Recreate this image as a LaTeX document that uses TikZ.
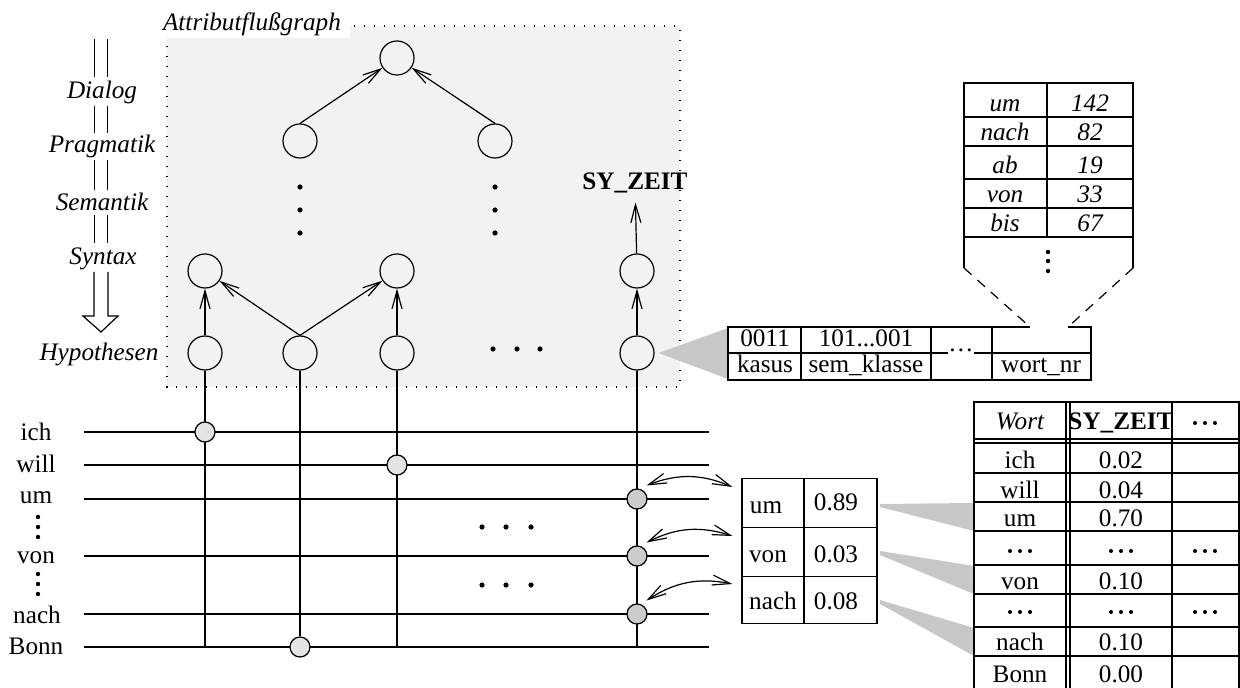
\documentclass[tikz,border=0pt]{standalone}
\usepackage{fontspec}
\setmainfont{Liberation Serif}
\usetikzlibrary{arrows.meta}

\tikzset{
  knoten/.style={circle, draw, minimum size=17pt, inner sep=0pt},
  treffer/.style={circle, draw, minimum size=10pt, inner sep=0pt},
  pfeil/.style={-{Straight Barb[length=9pt,width=5pt]}},
  doppelpfeil/.style={{Straight Barb[length=9pt,width=5pt]}-{Straight Barb[length=9pt,width=5pt]}},
  ebene/.style={font=\itshape, anchor=base},
  eintrag/.style={anchor=base, inner sep=0pt},
  keil/.style={fill=black!22},
  stufe/.style={double, double distance=6.2pt},
}

\begin{document}
\fontsize{12.6}{15}\selectfont
\begin{tikzpicture}[x=0.5pt, y=-0.5pt, line width=0.6pt]
            \useasboundingbox (0,0) rectangle (1240,688);

            % Graph area
            \fill[black!5] (167,26) rectangle (680,387);
            \draw[dash pattern=on 0.7pt off 4.3pt] (167,26) rectangle (680,387);
            \fill[white] (160,0) rectangle (350,38);
            \node[ebene] (titel) at (252,31) {Attributflußgraph};

            % Levels
            \coordinate (stufe-oben) at (101,39);
            \node[ebene] (dialog) at (102,99) {Dialog};
            \node[ebene] (pragmatik) at (102,153) {Pragmatik};
            \node[ebene] (semantik) at (102,211) {Semantik};
            \node[ebene] (syntax) at (103,265) {Syntax};
            \node[ebene] (hypothesen) at (99,361) {Hypothesen};
            \draw[stufe] (stufe-oben) -- (101,77);
            \draw[stufe] (101,106) -- (101,133);
            \draw[stufe] (101,160) -- (101,190);
            \draw[stufe] (101,215) -- (101,243);
            \draw (94,272) -- (94,316) -- (83,316) -- (101,332) -- (118,316) -- (108,316) -- (108,272);

            % Nodes
            \node[knoten] (g0) at (397,58) {};
            \node[knoten] (g1) at (300,141) {};
            \node[knoten] (g2) at (495,141) {};
            \node[knoten] (s1) at (205,271) {};
            \node[knoten] (s2) at (397,271) {};
            \node[knoten] (s3) at (637,271) {};
            \node[knoten] (h1) at (205,353) {};
            \node[knoten] (h2) at (300,353) {};
            \node[knoten] (h3) at (397,353) {};
            \node[knoten] (h4) at (637,353) {};
            \node[anchor=base] (zeit) at (635,190) {\textbf{SY\_ZEIT}};

            % Dots
            \fill (300,187) circle (2.6) (300,210) circle (2.6) (300,233) circle (2.6);
            \fill (495,187) circle (2.6) (495,210) circle (2.6) (495,233) circle (2.6);
            \fill (493,349) circle (2.6) (517,349) circle (2.6) (540,349) circle (2.6);

            % Edges
            \draw[pfeil] (g1.north) -- (g0);
            \draw[pfeil] (g2.north) -- (g0);
            \draw[pfeil] (s3) -- (zeit);
            \draw[pfeil] (h4) -- (s3);
            \draw[pfeil] (h1) -- (s1);
            \draw[pfeil] (h2.north) -- (s1);
            \draw[pfeil] (h2.north) -- (s2);
            \draw[pfeil] (h3) -- (s2);

            % Words
            \node[anchor=base] (w-ich) at (36,441) {ich};
            \node[anchor=base] (w-will) at (36,473) {will};
            \node[anchor=base] (w-um) at (36,503) {um};
            \node[anchor=base] (w-von) at (36,563) {von};
            \node[anchor=base] (w-nach) at (37,623) {nach};
            \node[anchor=base] (w-bonn) at (36,654) {Bonn};
            \fill (38,517) circle (2.2) (38,527) circle (2.2) (38,537) circle (2.2);
            \fill (38,574) circle (2.2) (38,584) circle (2.2) (38,594) circle (2.2);
            \draw (84,432) -- (709,432);
            \draw (84,465) -- (709,465);
            \draw (84,499) -- (709,499);
            \draw (84,556) -- (709,556);
            \draw (84,614) -- (709,614);
            \draw (84,647) -- (709,647);
            \coordinate (unten) at (709,647);
            \fill (482,527) circle (2.6) (506,527) circle (2.6) (531,527) circle (2.6);
            \fill (482,585) circle (2.6) (506,585) circle (2.6) (531,585) circle (2.6);

            % Hits
            \draw (h1) -- (h1 |- unten);
            \draw (h3) -- (h3 |- unten);
            \draw (h4) -- (h4 |- unten);
            \node[treffer, fill=black!10] (t-ich) at (205,432) {};
            \node[treffer, fill=black!10] (t-will) at (397,465) {};
            \node[treffer, fill=black!10] (t-bonn) at (300,647) {};
            \draw (h2) -- (t-bonn);
            \node[treffer, fill=black!20] (t-um) at (637,499) {};
            \node[treffer, fill=black!20] (t-von) at (637,556) {};
            \node[treffer, fill=black!20] (t-nach) at (637,614) {};

            % Scores
            \node[draw, minimum width=31pt, minimum height=24.5pt] (p-um) at (773,503) {};
            \node[draw, minimum width=31pt, minimum height=24.5pt] (p-von) at (773,552) {};
            \node[draw, minimum width=31pt, minimum height=23.5pt] (p-nach) at (773,600) {};
            \node[draw, minimum width=36.5pt, minimum height=24.5pt] (q-um) at (840.5,503) {};
            \node[draw, minimum width=36.5pt, minimum height=24.5pt] (q-von) at (840.5,552) {};
            \node[draw, minimum width=36.5pt, minimum height=23.5pt] (q-nach) at (840.5,600) {};
            \node[eintrag] at (766,514) {um};
            \node[eintrag] at (836,510) {0.89};
            \node[eintrag] at (768,562) {von};
            \node[eintrag] at (836,562) {0.03};
            \node[eintrag] at (773,609) {nach};
            \node[eintrag] at (836,609) {0.08};
            \draw[doppelpfeil] ([shift={(2,-6)}]t-um.north east) to[bend left=22] ([shift={(-9,-16)}]p-um.west);
            \draw[doppelpfeil] ([shift={(2,-6)}]t-von.north east) to[bend left=22] ([shift={(-9,-16)}]p-von.west);
            \draw[doppelpfeil] ([shift={(2,-6)}]t-nach.north east) to[bend left=22] ([shift={(-9,-16)}]p-nach.west);

            % Word table
            \fill[keil] (880,504) -- (974,503) -- (974,531) -- (880,507) -- cycle;
            \fill[keil] (880,551) -- (974,566) -- (974,594) -- (880,555) -- cycle;
            \fill[keil] (880,600) -- (974,628) -- (974,656) -- (880,604) -- cycle;
            \draw (974,688) -- (974,402) -- (1239,402) -- (1239,688);
            \draw (1066,402) -- (1066,688);
            \draw (1070,402) -- (1070,688);
            \draw (1172,402) -- (1172,688);
            \draw (974,439) -- (1239,439);
            \draw (974,443) -- (1239,443);
            \draw (974,473) -- (1239,473);
            \draw (974,502) -- (1239,502);
            \draw (974,531) -- (1239,531);
            \draw (974,565) -- (1239,565);
            \draw (974,594) -- (1239,594);
            \draw (974,627) -- (1239,627);
            \draw (974,656) -- (1239,656);
            \node[eintrag, font=\itshape] (k-wort) at (1020,430) {Wort};
            \node[eintrag] (k-zeit) at (1121,430) {\textbf{SY\_ZEIT}};
            \node[eintrag] at (1020,469) {ich};
            \node[eintrag] at (1121,469) {0.02};
            \node[eintrag] at (1020,499) {will};
            \node[eintrag] at (1121,499) {0.04};
            \node[eintrag] at (1020,526) {um};
            \node[eintrag] at (1121,526) {0.70};
            \node[eintrag] at (1020,589) {von};
            \node[eintrag] at (1121,589) {0.10};
            \node[eintrag] at (1020,650) {nach};
            \node[eintrag] at (1121,650) {0.10};
            \node[eintrag] at (1020,682) {Bonn};
            \node[eintrag] at (1121,682) {0.00};
            \fill (1195,423) circle (2) (1205,423) circle (2) (1215,423) circle (2);
            \fill (1010,551) circle (2) (1020,551) circle (2) (1030,551) circle (2);
            \fill (1111,551) circle (2) (1121,551) circle (2) (1131,551) circle (2);
            \fill (1195,551) circle (2) (1205,551) circle (2) (1215,551) circle (2);
            \fill (1010,612) circle (2) (1020,612) circle (2) (1030,612) circle (2);
            \fill (1111,612) circle (2) (1121,612) circle (2) (1131,612) circle (2);
            \fill (1195,612) circle (2) (1205,612) circle (2) (1215,612) circle (2);

            % Record
            \fill[keil] ([xshift=2pt]h4.east) -- (728,328) -- (728,379) -- cycle;
            \draw (1030,327) -- (728,327) -- (728,380) -- (1091,380) -- (1091,327) -- (1068,327);
            \draw (801,327) -- (801,380);
            \draw (931,327) -- (931,380);
            \draw (992,327) -- (992,380);
            \node[eintrag] (r-bits) at (765,347) {0011};
            \node[eintrag] (r-kasus) at (765,373) {kasus};
            \node[eintrag] (r-sembits) at (866,347) {101...001};
            \node[eintrag] (r-sem) at (866,373) {sem\_klasse};
            \node[eintrag] (r-mehr) at (961,352) {\dots};
            \node[eintrag] (r-nr) at (1041,373) {wort\_nr};
            \draw (728,353) -- (r-mehr.west |- 728,353);
            \draw (r-mehr.east |- 728,353) -- (1091,353);

            % Lexicon
            \draw (964,268) -- (964,83) -- (1133,83) -- (1133,268);
            \draw (1047,83) -- (1047,237);
            \draw (964,117) -- (1133,117);
            \draw (964,146) -- (1133,146);
            \draw (964,179) -- (1133,179);
            \draw (964,208) -- (1133,208);
            \draw (964,237) -- (1133,237);
            \node[ebene] (l-um) at (1005,112) {um};
            \node[ebene] at (1090,112) {142};
            \node[ebene] (l-nach) at (1005,141) {nach};
            \node[ebene] at (1090,141) {82};
            \node[ebene] (l-ab) at (1005,174) {ab};
            \node[ebene] at (1090,174) {19};
            \node[ebene] (l-von) at (1005,203) {von};
            \node[ebene] at (1090,203) {33};
            \node[ebene] (l-bis) at (1005,232) {bis};
            \node[ebene] at (1090,232) {67};
            \fill (1048,252) circle (2.2) (1048,261) circle (2.2) (1048,271) circle (2.2);
            \draw[dash pattern=on 5pt off 4pt] (964,268) -- (1030,327);
            \draw[dash pattern=on 5pt off 4pt] (1133,268) -- (1068,327);
        \end{tikzpicture}
\end{document}
